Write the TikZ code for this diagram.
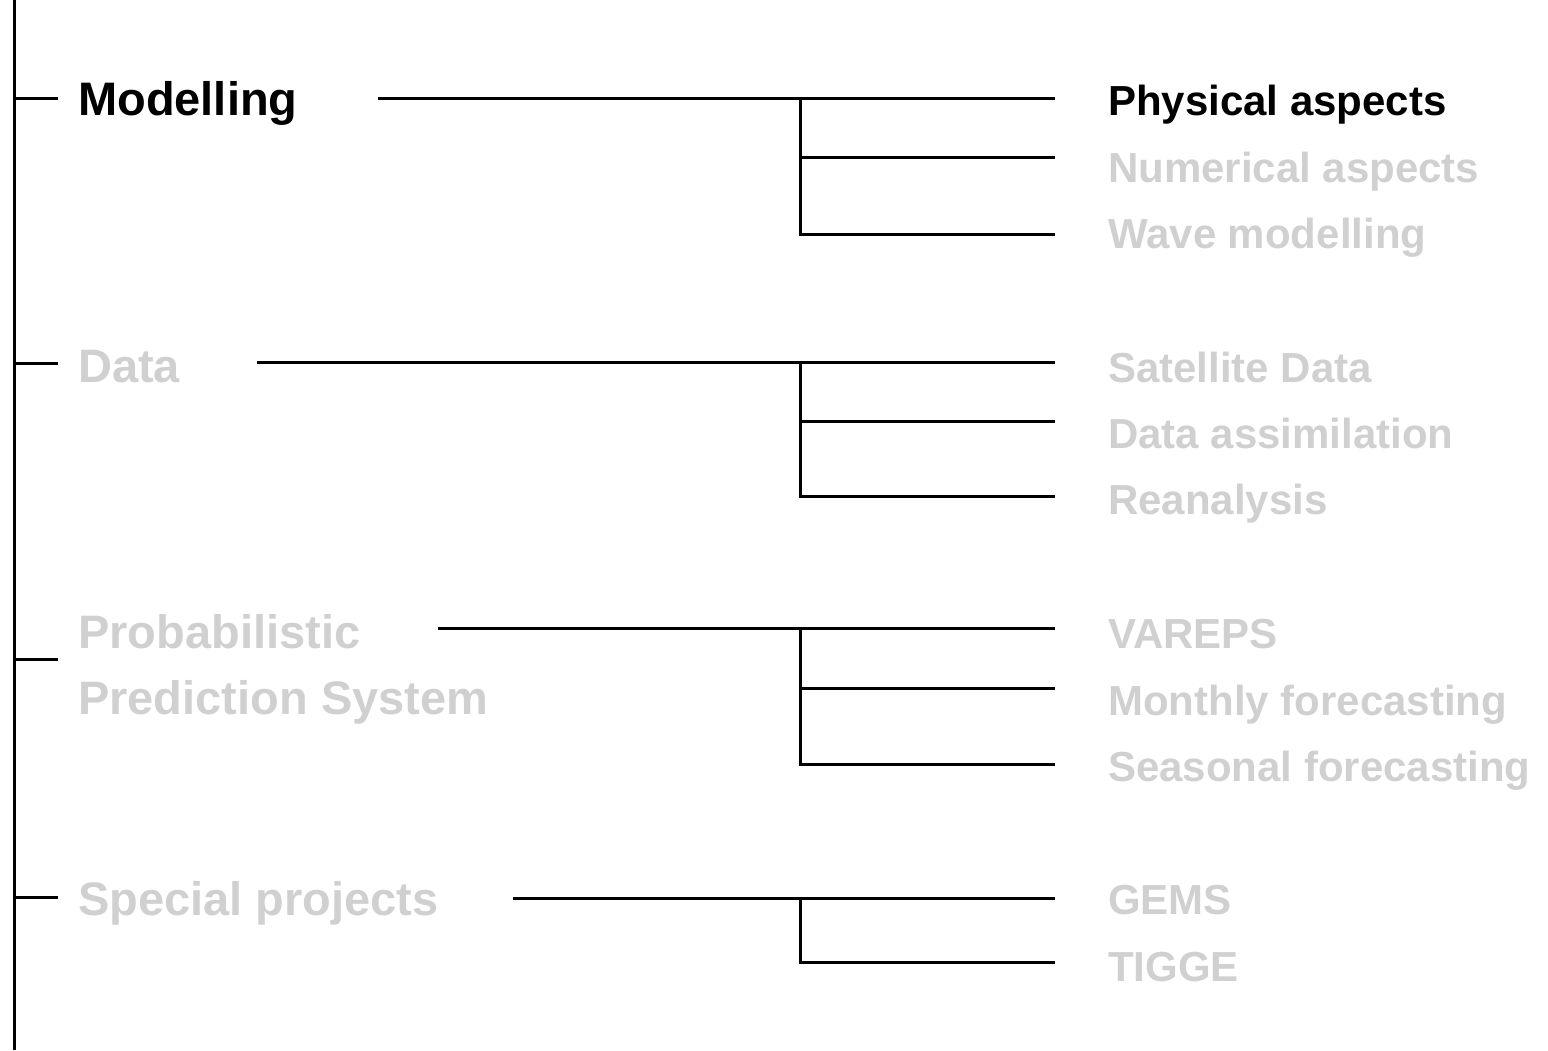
\documentclass[tikz,border=0pt]{standalone}
\usepackage{fontspec}
\setmainfont{Liberation Sans}
\begin{document}
\begin{tikzpicture}[x=1pt,y=-1pt,
  line/.style={line width=3pt},
  topic/.style={anchor=base west,inner sep=0pt,font=\fontsize{47}{66}\selectfont\bfseries},
  sub/.style={anchor=base west,inner sep=0pt,font=\fontsize{42}{50}\selectfont\bfseries},
  faded/.style={text=fadegray}]
\definecolor{fadegray}{HTML}{D0D0D0}
\useasboundingbox (0,0) rectangle (1548,1050);

% spine
\coordinate (top) at (14,0);
\coordinate (bottom) at (14,1050);
\draw[line] (top) -- (bottom);

% main topics
\node[topic] (modelling) at (78,115) {Modelling};
\node[topic,faded] (data) at (78,382) {Data};
\node[topic,faded] (prob) at (78,648) {Probabilistic};
\node[topic,faded] (prob2) at (78,714) {Prediction System};
\node[topic,faded] (special) at (78,915) {Special projects};

% ticks off the spine
\foreach \n/\y in {modelling/98,data/363,prob/659,special/897}{
  \coordinate (\n-s) at (14,\y);
  \coordinate (\n-t) at (58,\y);
  \draw[line] (\n-s) -- (\n-t);
}

% sub topics
\node[sub] (phys) at (1108,115) {Physical aspects};
\node[sub,faded] (num) at (1108,182) {Numerical aspects};
\node[sub,faded] (wave) at (1108,248) {Wave modelling};
\node[sub,faded] (sat) at (1108,382) {Satellite Data};
\node[sub,faded] (assim) at (1108,448) {Data assimilation};
\node[sub,faded] (rean) at (1108,514) {Reanalysis};
\node[sub,faded] (vareps) at (1108,648) {VAREPS};
\node[sub,faded] (monthly) at (1108,715) {Monthly forecasting};
\node[sub,faded] (seasonal) at (1108,781) {Seasonal forecasting};
\node[sub,faded] (gems) at (1108,914) {GEMS};
\node[sub,faded] (tigge) at (1108,981) {TIGGE};

% branch brackets
\foreach \n/\xs/\ya/\yb/\yc in {modelling/378/98/157/234, data/257/362/421/496, prob/438/628/688/764}{
  \coordinate (\n-a) at (\xs,\ya);
  \coordinate (\n-j) at (800,\ya);
  \coordinate (\n-e1) at (1055,\ya);
  \coordinate (\n-m) at (800,\yb);
  \coordinate (\n-e2) at (1055,\yb);
  \coordinate (\n-k) at (800,\yc);
  \coordinate (\n-e3) at (1055,\yc);
  \draw[line] (\n-a) -- (\n-e1);
  \draw[line] (\n-j) -- (\n-k) -- (\n-e3);
  \draw[line] (\n-m) -- (\n-e2);
}
\coordinate (special-a) at (513,898);
\coordinate (special-j) at (800,898);
\coordinate (special-e1) at (1055,898);
\coordinate (special-k) at (800,962);
\coordinate (special-e2) at (1055,962);
\draw[line] (special-a) -- (special-e1);
\draw[line] (special-j) -- (special-k) -- (special-e2);
\end{tikzpicture}
\end{document}
